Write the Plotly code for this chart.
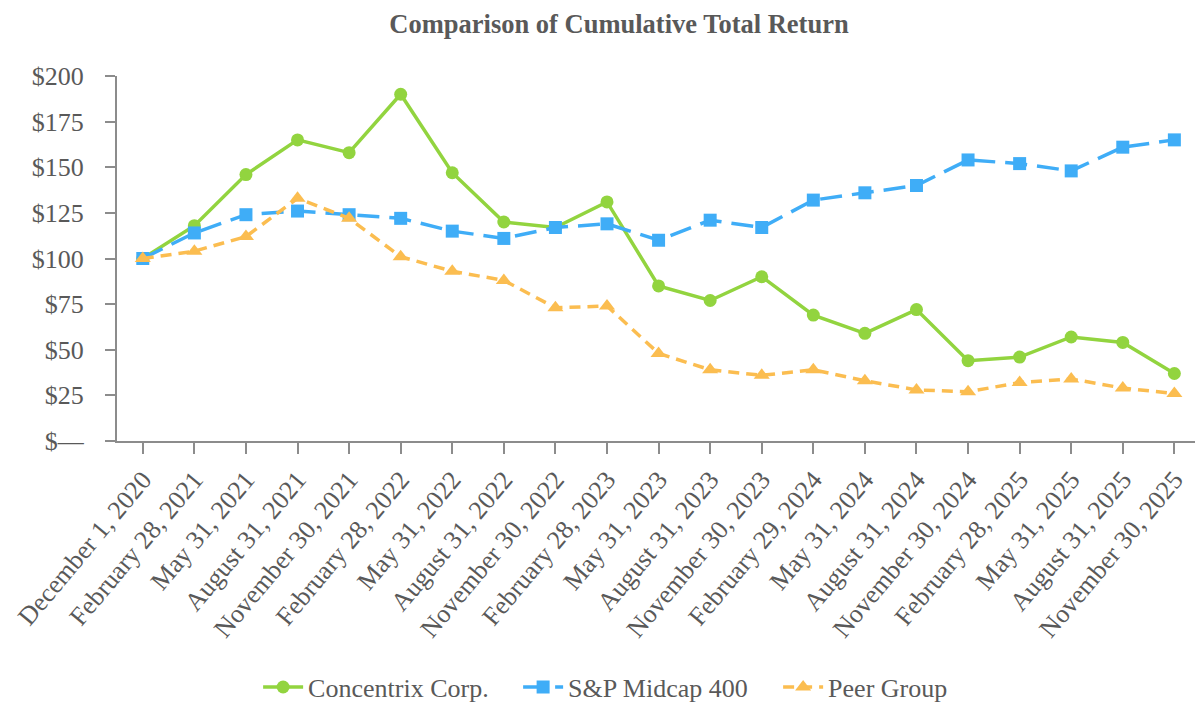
import plotly.graph_objects as go

dates = ["December 1, 2020", "February 28, 2021", "May 31, 2021", "August 31, 2021",
         "November 30, 2021", "February 28, 2022", "May 31, 2022", "August 31, 2022",
         "November 30, 2022", "February 28, 2023", "May 31, 2023", "August 31, 2023",
         "November 30, 2023", "February 29, 2024", "May 31, 2024", "August 31, 2024",
         "November 30, 2024", "February 28, 2025", "May 31, 2025", "August 31, 2025",
         "November 30, 2025"]
concentrix = [100, 118, 146, 165, 158, 190, 147, 120, 117, 131, 85, 77, 90, 69, 59, 72, 44, 46, 57, 54, 37]
sp_midcap = [100, 114, 124, 126, 124, 122, 115, 111, 117, 119, 110, 121, 117, 132, 136, 140, 154, 152, 148, 161, 165]
peer_group = [100, 104, 112, 133, 122, 101, 93, 88, 73, 74, 48, 39, 36, 39, 33, 28, 27, 32, 34, 29, 26]
y_ticks = [0, 25, 50, 75, 100, 125, 150, 175, 200]
y_tick_text = ["$—", "$25", "$50", "$75", "$100", "$125", "$150", "$175", "$200"]

FONT = "Liberation Serif, Times New Roman, serif"
TXT = "#595959"
AX = "#8c8c8c"

fig = go.Figure()
fig.add_trace(go.Scatter(x=dates, y=concentrix, name="Concentrix Corp.", mode="lines+markers",
                         line=dict(color="#92d43f", width=3.5),
                         marker=dict(symbol="circle", size=13, color="#92d43f")))
fig.add_trace(go.Scatter(x=dates, y=sp_midcap, name="S&P Midcap 400", mode="lines+markers",
                         line=dict(color="#3fadf7", width=3.5, dash="22px,10px"),
                         marker=dict(symbol="square", size=13, color="#3fadf7")))
fig.add_trace(go.Scatter(x=dates, y=peer_group, name="Peer Group", mode="lines+markers",
                         line=dict(color="#fbbd50", width=3.5, dash="11px,7px"),
                         marker=dict(symbol="triangle-up", size=14, color="#fbbd50")))

fig.update_layout(
    width=1195, height=704,
    paper_bgcolor="white", plot_bgcolor="white",
    margin=dict(l=117, r=0, t=76, b=263),
    font=dict(family=FONT, color=TXT, size=26),
    title=dict(text="<b>Comparison of Cumulative Total Return</b>", x=0.518, xanchor="center",
               y=0.966, yanchor="middle", font=dict(size=26.5, color=TXT, family=FONT)),
    showlegend=True,
    legend=dict(orientation="h", xref="container", yref="container", x=0.216, xanchor="left",
                y=0.024, yanchor="middle", font=dict(size=26, color=TXT, family=FONT),
                itemwidth=40, tracegroupgap=0, entrywidth=205),
    xaxis=dict(type="category", range=[-0.5, 20.4], showgrid=False, zeroline=False,
               showline=True, linecolor=AX, linewidth=2, ticks="outside", ticklen=11,
               tickcolor=AX, tickwidth=1.5, tickangle=-50,
               tickfont=dict(size=26, color=TXT, family=FONT)),
    yaxis=dict(range=[0, 200], showgrid=False, zeroline=False, showline=True, linecolor=AX,
               linewidth=2, ticks="outside", ticklen=10, tickcolor=AX, tickwidth=1.5,
               tickvals=y_ticks, ticktext=y_tick_text, ticklabelstandoff=16,
               tickfont=dict(size=26, color=TXT, family=FONT)),
)

fig.write_html("out.html", config={"displayModeBar": False},
               post_script="document.body.style.margin='0px';")
